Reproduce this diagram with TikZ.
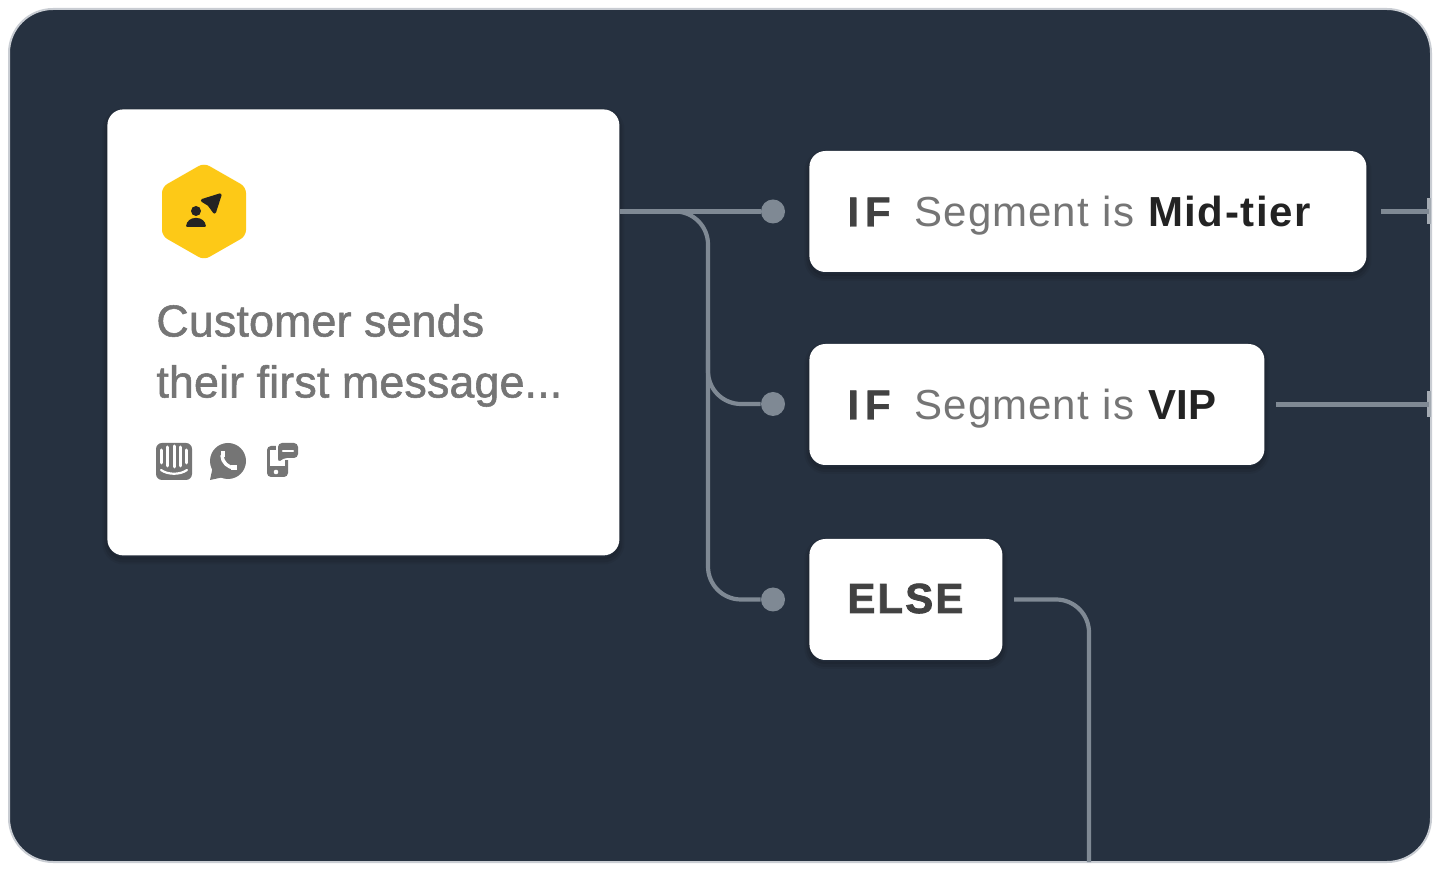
\documentclass[tikz,border=0pt]{standalone}
\usepackage{fontspec}
\setmainfont{Liberation Sans}
\newfontfamily\msgfont[FakeBold=1.2,LetterSpace=0.3]{Liberation Sans}
\newfontfamily\labfont[LetterSpace=2.5]{Liberation Sans}
\newfontfamily\strongwide[LetterSpace=3.5]{Liberation Sans Bold}
\newfontfamily\strongtight{Liberation Sans Bold}
\newfontfamily\kwfont[LetterSpace=14,FakeBold=1]{Liberation Sans Bold}
\newfontfamily\elsefont[LetterSpace=5,FakeBold=1.8]{Liberation Sans Bold}
\def\px{0.5pt}
\definecolor{navy}{HTML}{263140}
\definecolor{edge}{HTML}{C9CDD3}
\definecolor{wire}{HTML}{7F8994}
\definecolor{stubbar}{HTML}{A4ABB3}
\definecolor{amber}{HTML}{FDC917}
\definecolor{ink}{HTML}{232323}
\definecolor{kw}{HTML}{424242}
\definecolor{soft}{HTML}{757575}
\tikzset{
  softshadow/.style={
    preaction={draw=black,draw opacity=.05,line width=5pt,transform canvas={yshift=-2pt}},
    preaction={draw=black,draw opacity=.07,line width=3pt,transform canvas={yshift=-2pt}},
    preaction={draw=black,draw opacity=.09,line width=1pt,transform canvas={yshift=-1.5pt}}},
  cardbox/.style={softshadow,fill=white,rounded corners=8pt,inner sep=0pt,anchor=north west},
  branchbox/.style={softshadow,fill=white,rounded corners=8pt,anchor=west,inner xsep=19pt,inner ysep=0pt,
    minimum height=60.5pt,align=left,font=\fontsize{21}{25}\selectfont},
  wireline/.style={draw=wire,line width=2.1pt,rounded corners=16.5pt},
  dotnode/.style={circle,fill=wire,minimum size=12pt,inner sep=0pt},
  msg/.style={anchor=base west,inner sep=0pt,text=soft,font=\msgfont\fontsize{22.4}{26}\selectfont},
  icon/.style={fill=soft,draw=none},
  cut/.style={draw=white,line cap=round},
}
\newcommand{\kwtext}[1]{{\kwfont\color{kw}#1}}
\newcommand{\softtext}[1]{{\labfont\color{soft}#1}}
\newcommand{\seated}[2]{\raisebox{0pt}[#1][0pt]{#2}}
\begin{document}
\begin{tikzpicture}[x=\px,y=-\px]
\useasboundingbox (0,0) rectangle (1440,870);
\fill[white] (0,0) rectangle (1440,870);
\draw[fill=navy,draw=edge,line width=1pt,rounded corners=22pt] (9,9) rectangle (1431,862);

% nodes
\node[cardbox,minimum width=256pt,minimum height=223pt] (card) at (107,109) {};
\node[branchbox,text width=240.5pt] (ifmid) at (809,211.5) {\seated{15pt}{\kwtext{IF}\hspace{12pt}\softtext{Segment is} {\strongwide\color{ink}Mid-tier}}};
\node[branchbox,text width=189.5pt] (ifvip) at (809,404.5) {\seated{15pt}{\kwtext{IF}\hspace{12pt}\softtext{Segment is} {\strongtight\color{ink}VIP}}};
\node[branchbox,text width=58.5pt] (elsebox) at (809,599.5) {\seated{13.5pt}{\elsefont\color{kw}ELSE}};
\node[dotnode] (dotmid) at (773,211.5) {};
\node[dotnode] (dotvip) at (773,404) {};
\node[dotnode] (dotelse) at (773,599.5) {};
\node[msg] (line1) at (156,336.5) {Customer sends};
\node[msg] (line2) at (156,397.5) {their first message...};

% connectors
\coordinate (trunk) at (708,300);
\coordinate (vipstart) at (708,350);
\draw[draw=wire,line width=2.1pt] (card.east |- dotmid) -- (dotmid);
\draw[wireline] (card.east |- dotmid) -- (trunk |- dotmid) -- (trunk |- dotelse) -- (dotelse);
\draw[wireline] (vipstart) -- (trunk |- dotvip) -- (dotvip);
\coordinate (elsestart) at (1014,599.5);
\coordinate (elsecorner) at (1089,599.5);
\coordinate (elseend) at (1089,862);
\draw[wireline] (elsestart) -- (elsecorner) -- (elseend);
\coordinate (stubmid) at (1381,211.5);
\coordinate (stubmidend) at (1429,211.5);
\coordinate (stubvip) at (1276,404.5);
\coordinate (stubvipend) at (1429,404.5);
\fill[stubbar] (1427,198) rectangle (1431,224);
\fill[stubbar] (1427,391) rectangle (1431,417);
\draw[draw=wire,line width=2.1pt] (stubmid) -- (stubmidend);
\draw[draw=wire,line width=2.1pt] (stubvip) -- (stubvipend);

% hexagon badge
\fill[amber,rounded corners=3pt] (204,163) -- (246,187) -- (246,236) -- (204,260) -- (162,236) -- (162,187) -- cycle;
\fill[ink] (196,211) circle[radius=5];
\fill[ink,rounded corners=0.5pt] (186,227) .. controls (186.5,221) and (191,218) .. (196,218) .. controls (201,218) and (205.5,221) .. (206,227) -- cycle;
\filldraw[ink,line width=1.6pt,line join=round] (202.5,200.5) -- (220,195) -- (214.5,212) -- (209,204.5) -- cycle;

% intercom icon
\fill[icon,rounded corners=3pt] (156,443) rectangle (192,480);
\foreach \bx/\by/\ey in {161.5/450/463,167.5/447/466,174/446/467,180.5/447/466,186.5/450/463}
  \draw[cut,line width=1.5pt] (\bx,\by) -- (\bx,\ey);
\draw[cut,line width=1.1pt] (161,470) .. controls (168,475) and (180,475) .. (187,470);

% whatsapp icon
\fill[icon] (228,461) circle[radius=18];
\fill[icon] (210,480) -- (213,466) -- (224,477) -- cycle;
\draw[cut,line width=1.7pt] (222,455.5) .. controls (222,462) and (228,468) .. (235,468);
\fill[white] (220.5,451.5) rectangle (224.5,457);
\fill[white] (231,465) rectangle (237,470);

% phone chat icon
\fill[icon,rounded corners=2pt] (267,446) rectangle (288,477);
\fill[white] (270,450) rectangle (285,466);
\fill[white] (276,472) circle[radius=2.3];
\fill[white,rounded corners=2pt] (276,441) rectangle (300,460);
\fill[icon,rounded corners=2pt] (278,443) -- (298,443) -- (298,458) -- (283,458) -- (278,463) -- cycle;
\draw[cut,line width=1.2pt] (283,451) -- (293,451);
\end{tikzpicture}
\end{document}
